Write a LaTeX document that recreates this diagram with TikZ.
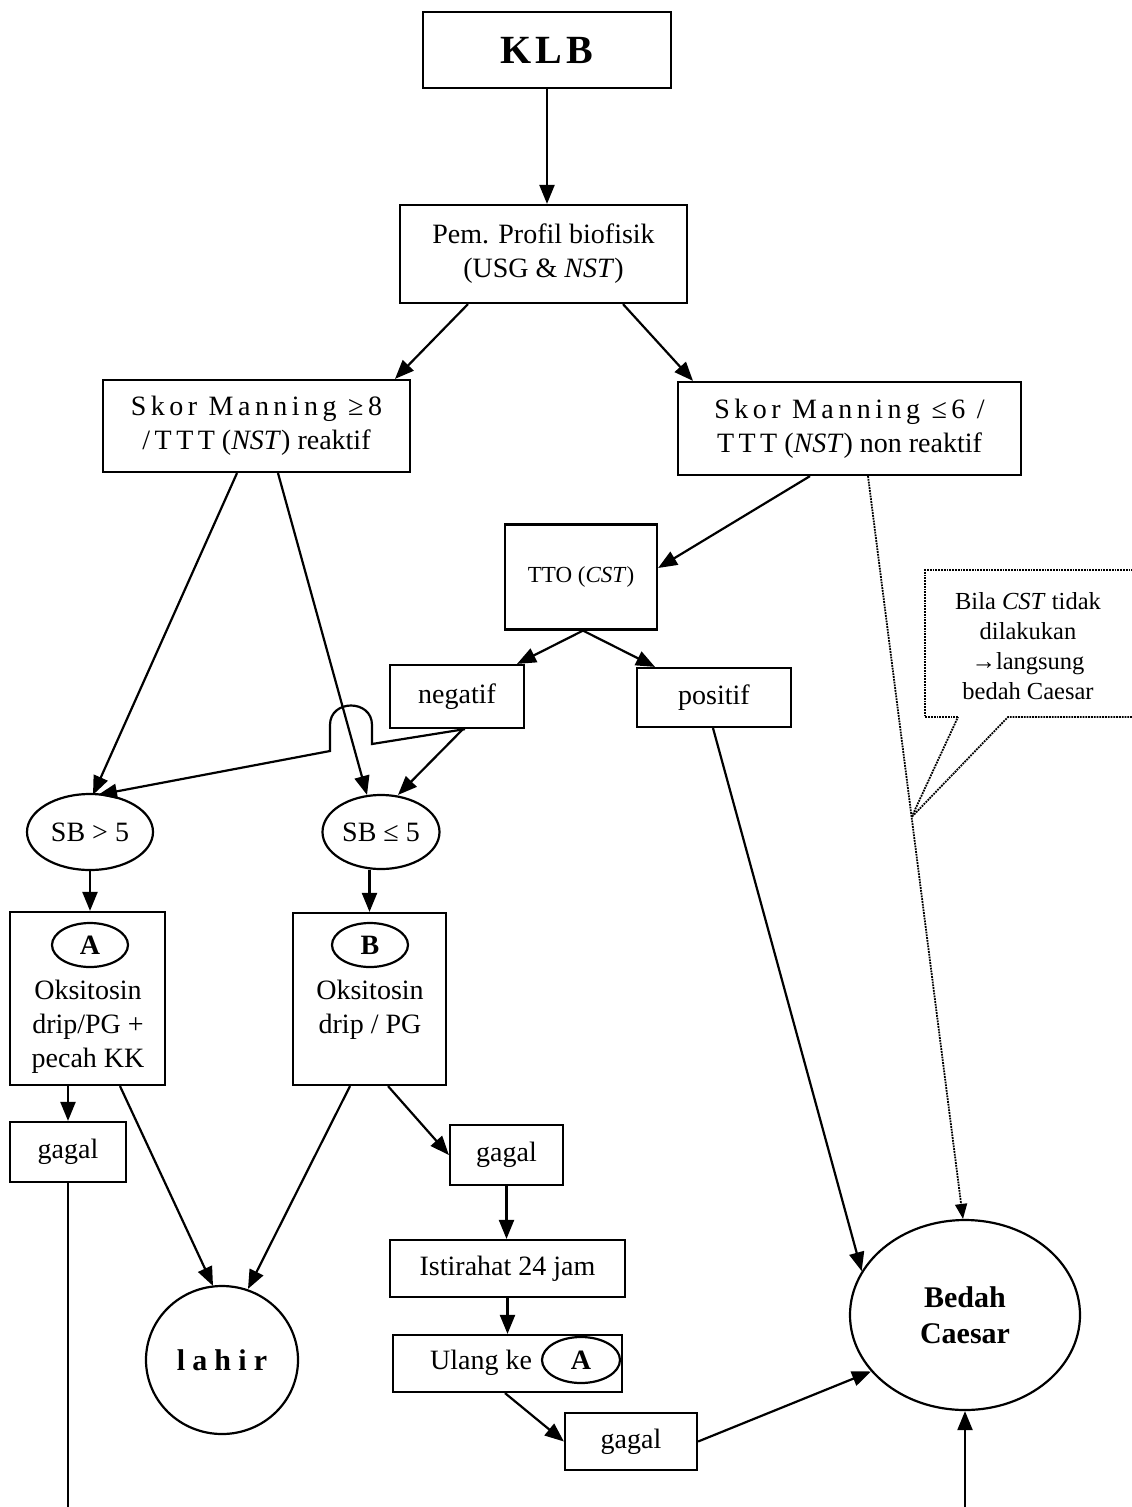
\documentclass[tikz,border=0pt]{standalone}
\usepackage{fontspec}
\setmainfont{Liberation Serif}
\newfontfamily\spcA[LetterSpace=16]{Liberation Serif}
\newfontfamily\spcB[LetterSpace=10]{Liberation Serif}
\newfontfamily\spcC[LetterSpace=24]{Liberation Serif}
\usetikzlibrary{arrows.meta,shapes.geometric,calc}
\newcommand\fsN{\fontsize{28}{34}\selectfont}
\newcommand\fsS{\fontsize{23}{30}\selectfont}
\begin{document}
\begin{tikzpicture}[x=1pt,y=-1pt,
  bx/.style={draw,line width=2.2pt,rectangle,inner sep=0pt,align=center,font=\fsN},
  ell/.style={draw,line width=2.2pt,ellipse,inner sep=0pt,align=center,font=\fsN},
  txt/.style={inner sep=0pt,align=center,font=\fsN},
  arr/.style={line width=2.2pt,-{Triangle[length=19pt,width=15pt]}},
  ln/.style={line width=2.2pt},
  dot/.style={line width=1.8pt,densely dotted}]
\fill[white] (0,0) rectangle (1132,1507);
\path[use as bounding box] (0,0) rectangle (1132,1507);

% nodes
\node[bx,minimum width=248pt,minimum height=76pt,font=\fontsize{40}{42}\selectfont\spcB\bfseries] (klb) at (547,50) {KLB};
\node[bx,minimum width=287pt,minimum height=98pt] (pem) at (543.5,254) {Pem. Profil biofisik\\(USG \& \textit{NST})};
\node[bx,minimum width=307pt,minimum height=92pt] (sk8) at (256.5,426) {{\spcA Skor Manning ≥8}\\{\spcA /TTT} (\textit{NST}) reaktif};
\node[bx,minimum width=343pt,minimum height=93pt] (sk6) at (849.5,428.5) {{\spcA Skor Manning ≤6 /}\\{\spcA TTT} (\textit{NST}) non reaktif};
\node[bx,minimum width=152pt,minimum height=105pt,font=\fsS] (tto) at (581,577) {TTO (\textit{CST})};
\node[bx,minimum width=134pt,minimum height=63pt] (neg) at (457,696.5) {negatif};
\node[bx,minimum width=154pt,minimum height=59pt] (pos) at (714,697.5) {positif};
\node[ell,minimum width=126pt,minimum height=76pt] (sbg) at (90,832) {SB > 5};
\node[ell,minimum width=117pt,minimum height=74pt] (sbl) at (381,832) {SB ≤ 5};
\node[bx,minimum width=155pt,minimum height=173pt] (boxA) at (87.5,998.5) {};
\node[ell,minimum width=76pt,minimum height=44pt,font=\fsN\bfseries] (elA) at (90,945) {A};
\node[txt] (txtA) at (88,1027) {Oksitosin\\drip/PG +\\pecah KK};
\node[bx,minimum width=153pt,minimum height=172pt] (boxB) at (369.5,999) {};
\node[ell,minimum width=76pt,minimum height=44pt,font=\fsN\bfseries] (elB) at (370,945) {B};
\node[txt] (txtB) at (370,1010) {Oksitosin\\drip / PG};
\node[bx,minimum width=116pt,minimum height=60pt] (gag1) at (68,1152) {gagal};
\node[bx,minimum width=113pt,minimum height=60pt] (gag2) at (506.5,1155) {gagal};
\node[bx,minimum width=235pt,minimum height=57pt] (ist) at (507.5,1268.5) {Istirahat 24 jam};
\node[bx,minimum width=229pt,minimum height=57pt] (ulang) at (507.5,1363.5) {};
\node[txt] (ulangt) at (481,1363) {Ulang ke};
\node[ell,minimum width=78pt,minimum height=46pt,font=\fsN\bfseries] (elU) at (581,1360) {A};
\node[bx,minimum width=132pt,minimum height=57pt] (gag3) at (631,1441.5) {gagal};
\node[ell,minimum width=152pt,minimum height=148pt,font=\fontsize{30}{33}\selectfont\spcC\bfseries] (lahir) at (222,1360) {lahir};
\node[ell,minimum width=230pt,minimum height=190pt,font=\fontsize{30}{36}\selectfont\bfseries] (bedah) at (965,1315) {Bedah\\Caesar};
\node[txt,font=\fontsize{24.5}{30}\selectfont] (call) at (1028,646) {Bila \textit{CST} tidak\\dilakukan\\→langsung\\bedah Caesar};

\coordinate (bl) at (68,1507);
\coordinate (br) at (965,1507);

% connectors
\draw[arr] (klb.south) -- (klb.south |- pem.north);
\draw[arr] ([xshift=-75.5pt]pem.south) -- ([xshift=138.5pt]sk8.north);
\draw[arr] ([xshift=79.5pt]pem.south) -- ([xshift=-156.5pt]sk6.north);
\draw[arr] ([xshift=-19.5pt]sk8.south) -- ([xshift=3pt,yshift=-2pt]sbg.north);
\draw[arr] ([xshift=21.5pt]sk8.south) -- ([xshift=-14pt,yshift=-1pt]sbl.north);
\draw[arr] ([xshift=-39.5pt]sk6.south) -- ([yshift=9pt]tto.east);
\coordinate (dA) at ([xshift=18.5pt]sk6.south);
\coordinate (dB) at ([xshift=-2pt]bedah.north);
\draw[dot,-{Triangle[length=15pt,width=12pt]}] (dA) -- (dB);
\coordinate (tip) at ($(dA)!0.459!(dB)$);
\draw[dot] (958,717) -- (925,717) -- (925,570) -- (1132,570);
\draw[dot] (1132,717) -- (1008,717) -- (tip) -- (958,717);
\draw[arr] ([xshift=2pt]tto.south) -- ([xshift=60pt]neg.north);
\draw[arr] ([xshift=2pt]tto.south) -- ([xshift=-59pt]pos.north);
\draw[arr] ([xshift=6pt]neg.south) -- ([xshift=17pt,yshift=-1pt]sbl.north);
\draw[arr] ([xshift=8pt]neg.south) -- (372,744) -- (372,725) .. controls (372,699) and (330,699) .. (330,725) -- (330,751) -- ([xshift=8pt,yshift=-2pt]sbg.north);
\draw[arr] (sbg.south) -- (sbg.south |- boxA.north);
\draw[arr] (sbl.south -| boxB.north) -- (boxB.north);
\draw[arr] (boxA.south -| gag1.north) -- (gag1.north);
\draw[ln] (gag1.south) -- (bl);
\draw[arr] ([xshift=32.5pt]boxA.south) -- ([xshift=-9pt,yshift=-1pt]lahir.north);
\draw[arr] ([xshift=-19.5pt]boxB.south) -- ([xshift=26pt,yshift=-4pt]lahir.north);
\draw[arr] ([xshift=18.5pt]boxB.south) -- (gag2.west);
\draw[arr] (gag2.south) -- (gag2.south |- ist.north);
\draw[arr] (ist.south) -- (ist.south |- ulang.north);
\draw[arr] ([xshift=-2.5pt]ulang.south) -- (gag3.west);
\draw[arr] (gag3.east) -- (bedah.211);
\draw[arr] ([xshift=-1pt]pos.south) -- (bedah.157);
\draw[arr] (br) -- (bedah.south);
\end{tikzpicture}
\end{document}
